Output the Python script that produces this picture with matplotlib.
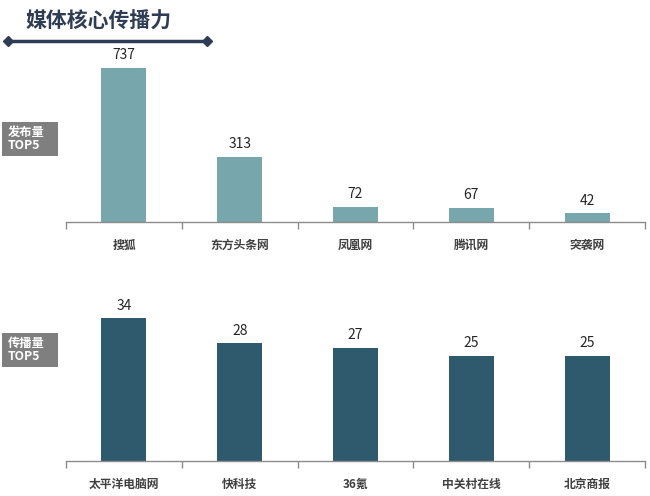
import matplotlib
matplotlib.use("Agg")
import matplotlib.pyplot as plt
from matplotlib.patches import Rectangle
from matplotlib.lines import Line2D

plt.rcParams['font.family'] = ['Noto Sans CJK SC', 'DejaVu Sans']

title = "媒体核心传播力"
top_cats = ["搜狐", "东方头条网", "凤凰网", "腾讯网", "突袭网"]
top_vals = [737, 313, 72, 67, 42]
bot_cats = ["太平洋电脑网", "快科技", "36氪", "中关村在线", "北京商报"]
bot_vals = [34, 28, 27, 25, 25]
top_label = "发布量\nTOP5"
bot_label = "传播量\nTOP5"

W, H = 650, 496
fig = plt.figure(figsize=(6.5, 4.96), dpi=100)

def px_axes(x0, y_top, x1, y_bot):
    return fig.add_axes([x0 / W, 1 - y_bot / H, (x1 - x0) / W, (y_bot - y_top) / H])

def draw(ax, cats, vals, color, ymax):
    x = list(range(len(cats)))
    ax.bar(x, vals, width=0.39, color=color, zorder=2)
    ax.set_xlim(-0.5, len(cats) - 0.5)
    ax.set_ylim(0, ymax)
    for s in ['top', 'right', 'left']:
        ax.spines[s].set_visible(False)
    ax.spines['bottom'].set_color('#8c8c8c')
    ax.spines['bottom'].set_linewidth(1.0)
    ax.set_yticks([])
    ax.set_xticks([i - 0.5 for i in range(len(cats) + 1)], minor=False)
    ax.set_xticklabels([])
    ax.tick_params(axis='x', which='major', length=5, color='#8c8c8c', width=1.0)
    ax.set_xticks(x, minor=True)
    ax.set_xticklabels(cats, minor=True, fontsize=8.5, fontweight='bold', color='#404040')
    ax.tick_params(axis='x', which='minor', length=0, pad=12)
    for xi, v in zip(x, vals):
        ax.annotate(str(v), (xi, v), xytext=(0, 4), textcoords='offset points',
                    ha='center', va='bottom', fontsize=10, color='#262626')

ax1 = px_axes(66, 40, 645, 222)
draw(ax1, top_cats, top_vals, '#78a6ad', 871)
ax2 = px_axes(66, 290, 645, 461)
draw(ax2, bot_cats, bot_vals, '#2f5a6e', 40.7)

# title
fig.text(25 / W, 1 - 21 / H, title, fontsize=15, fontweight='bold', color='#2e3d55',
         ha='left', va='center')
fig.add_artist(Line2D([8 / W, 207 / W], [1 - 41 / H, 1 - 41 / H], color='#2e3d55',
                      linewidth=2.5, marker='D', markersize=5, transform=fig.transFigure))

# side labels
for (y0, y1, txt) in [(122, 156, top_label), (333, 367, bot_label)]:
    fig.add_artist(Rectangle((2 / W, 1 - y1 / H), 56 / W, (y1 - y0) / H,
                             transform=fig.transFigure, facecolor='#7f7f7f', edgecolor='none'))
    fig.text(8 / W, 1 - (y0 + y1) / 2 / H, txt, fontsize=8.8, fontweight='bold', color='white',
             ha='left', va='center', linespacing=1.05)

fig.savefig("out.png", dpi=100)
